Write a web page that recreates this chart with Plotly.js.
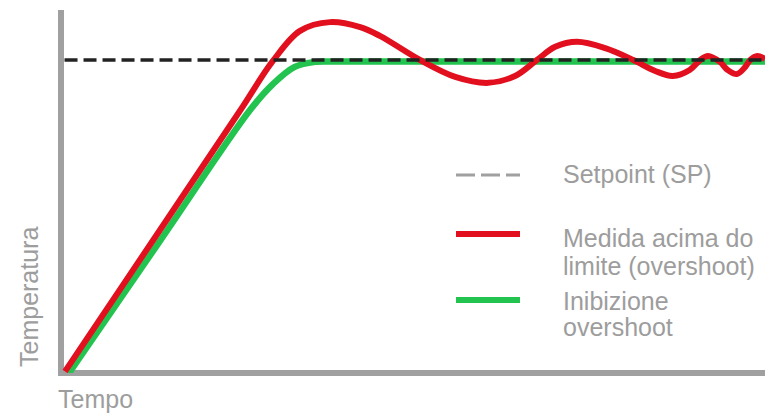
<!DOCTYPE html>
<html>
<head>
<meta charset="utf-8">
<script src="https://cdn.plot.ly/plotly-3.0.1.min.js"></script>
<style>html,body{margin:0;padding:0;background:#fff;}#chart{width:765px;height:414px;}</style>
</head>
<body>
<div id="chart"></div>
<script>
// Time (0-100) and temperature (setpoint = 100)
const setpointTime = [0.5, 100];
const setpointTemp = [100, 100];

const overshootTime = [0.57, 14.06, 25.4, 30.1, 33.95, 38.2, 42.5, 45.3, 51.0, 56.0, 60.7, 64.5, 67.6, 70.2, 73.3, 77.3, 81.3, 84.4, 86.9, 89.3, 90.8, 91.9, 93.6, 94.7, 96.0, 97.2, 97.9, 98.9, 100];
const overshootTemp = [0.5, 45.7, 83.7, 99.7, 109.3, 112.1, 110.5, 107.7, 100, 94.6, 92.7, 94.9, 100, 104.2, 105.8, 103.8, 100, 96.5, 94.9, 96.8, 100, 101.3, 99.4, 96.8, 95.5, 97.8, 100, 101.3, 100.3];

const inhibitTime = [1.14, 14.06, 26.85, 30.1, 33.2, 36.1, 39.6, 100];
const inhibitTemp = [0, 42.2, 84.0, 92.3, 97.8, 99.4, 99.5, 99.5];

const labels = {
  x: 'Tempo',
  y: 'Temperatura',
  sp: 'Setpoint (SP)',
  over: ['Medida acima do', 'limite (overshoot)'],
  inhib: ['Inibizione', 'overshoot']
};

const RED = '#e2101f', GREEN = '#22c44f', GRAY = '#a0a0a0', TXT = '#9d9d9d', DARK = '#222222';
const FONT = 'Liberation Sans, Arial, sans-serif';

// pixel helpers for decorations (plot area: x 61..765, y 0..373)
const L = 61, W = 704, H = 373;
const px = x => (x - L) / W;
const py = y => (H - y) / H;

const traces = [
  {x: inhibitTime, y: inhibitTemp, mode: 'lines', line: {color: GREEN, width: 6.5, shape: 'spline', smoothing: 1}, hoverinfo: 'skip'},
  {x: overshootTime, y: overshootTemp, mode: 'lines', line: {color: RED, width: 6, shape: 'spline', smoothing: 1}, hoverinfo: 'skip'},
  {x: setpointTime, y: setpointTemp, mode: 'lines', line: {color: DARK, width: 3.5, dash: '13px,6px'}, hoverinfo: 'skip'}
];

function ann(text, x, y, opts) {
  return Object.assign({text: text, xref: 'paper', yref: 'paper', x: px(x), y: py(y), xanchor: 'left', yanchor: 'middle',
    showarrow: false, font: {family: FONT, size: 25, color: TXT}}, opts || {});
}

const layout = {
  width: 765, height: 414,
  margin: {l: L, r: 0, t: 0, b: 414 - H, pad: 0},
  paper_bgcolor: '#fff', plot_bgcolor: '#fff',
  showlegend: false,
  xaxis: {range: [0, 100], visible: false, fixedrange: true},
  yaxis: {range: [0, H / 3.13], visible: false, fixedrange: true},
  shapes: [
    // axes
    {type: 'line', xref: 'paper', yref: 'paper', x0: 0, x1: 0, y0: py(376), y1: py(10), line: {color: GRAY, width: 6}, layer: 'below'},
    {type: 'line', xref: 'paper', yref: 'paper', x0: px(58), x1: 1, y0: 0, y1: 0, line: {color: GRAY, width: 6}, layer: 'below'},
    // legend keys
    {type: 'line', xref: 'paper', yref: 'paper', x0: px(456), x1: px(520), y0: py(175), y1: py(175), line: {color: GRAY, width: 3, dash: '19px,6px'}},
    {type: 'line', xref: 'paper', yref: 'paper', x0: px(456), x1: px(520), y0: py(234), y1: py(234), line: {color: RED, width: 6}},
    {type: 'line', xref: 'paper', yref: 'paper', x0: px(456), x1: px(520), y0: py(300), y1: py(300), line: {color: GREEN, width: 6}}
  ],
  annotations: [
    ann(labels.sp, 561, 174),
    ann(labels.over[0], 561, 238),
    ann(labels.over[1], 561, 266),
    ann(labels.inhib[0], 561, 301),
    ann(labels.inhib[1], 561, 327),
    ann(labels.x, 56, 399),
    ann(labels.y, 29, 297, {textangle: -90, xanchor: 'center', yanchor: 'middle'})
  ]
};

Plotly.newPlot('chart', traces, layout, {staticPlot: true, displayModeBar: false});
</script>
</body>
</html>
